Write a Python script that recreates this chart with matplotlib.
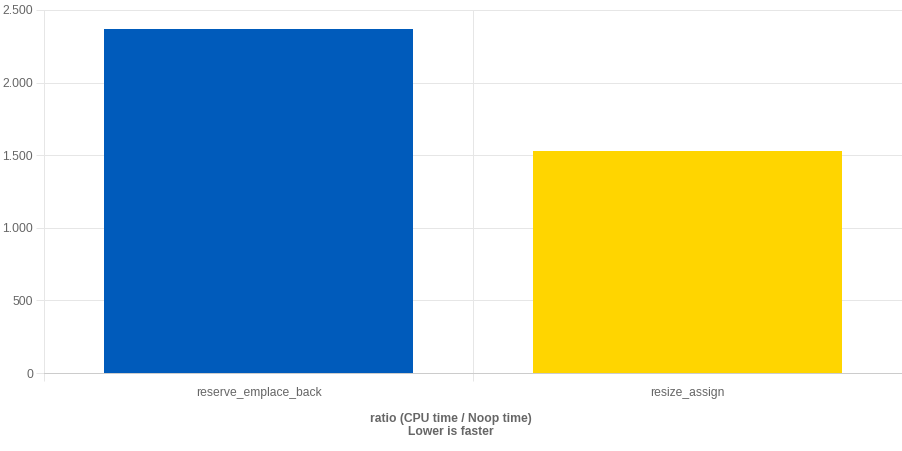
import matplotlib
matplotlib.use("Agg")
import matplotlib.pyplot as plt
from matplotlib.ticker import FuncFormatter, FixedLocator

plt.rcParams['font.family'] = ['Liberation Sans', 'DejaVu Sans']

categories = ["reserve_emplace_back", "resize_assign"]
values = [2368, 1528]
colors = ["#005BBB", "#FFD500"]
y_ticks = [0, 500, 1000, 1500, 2000, 2500]

W, H = 902, 451
PX = 0.72  # points per pixel at dpi 100
fig = plt.figure(figsize=(W / 100, H / 100), dpi=100)
ax = fig.add_axes([44 / W, (H - 373) / H, (902 - 44) / W, (373 - 10) / H])

x = list(range(len(categories)))
ax.bar(x, values, width=0.72, color=colors, zorder=3)

ax.set_xlim(-0.5, len(categories) - 0.5)
ax.set_ylim(0, 2500)

grid_c = "#e6e6e6"
axis_c = "#cccccc"
text_c = "#666666"
fs = 8.7

ax.set_yticks(y_ticks)
ax.yaxis.set_major_formatter(FuncFormatter(lambda v, p: f"{int(v):,}".replace(",", ".")))
ax.tick_params(axis='y', length=8 * PX, width=PX, color=grid_c, pad=3 * PX,
               labelsize=fs, labelcolor=text_c)
ax.grid(axis='y', color=grid_c, linewidth=PX, zorder=0)

ax.set_xticks(x)
ax.set_xticklabels(categories)
ax.tick_params(axis='x', which='major', length=0, pad=10, labelsize=fs, labelcolor=text_c)
bounds = [i - 0.5 for i in range(len(categories) + 1)]
ax.xaxis.set_minor_locator(FixedLocator(bounds))
ax.tick_params(axis='x', which='minor', length=8 * PX, width=PX, color=grid_c)
ax.grid(axis='x', which='minor', color=grid_c, linewidth=PX, zorder=0)

for s in ['top', 'right']:
    ax.spines[s].set_visible(False)
ax.spines['left'].set_color(grid_c)
ax.spines['left'].set_linewidth(PX)
ax.spines['bottom'].set_color(axis_c)
ax.spines['bottom'].set_linewidth(PX)
ax.spines['bottom'].set_zorder(4)

fig.text(0.5, 1 - 425.5 / H, "ratio (CPU time / Noop time)\nLower is faster", fontsize=fs,
         fontweight='bold', color=text_c, ha='center', va='center', linespacing=1.2)

fig.savefig("out.png", dpi=100)
